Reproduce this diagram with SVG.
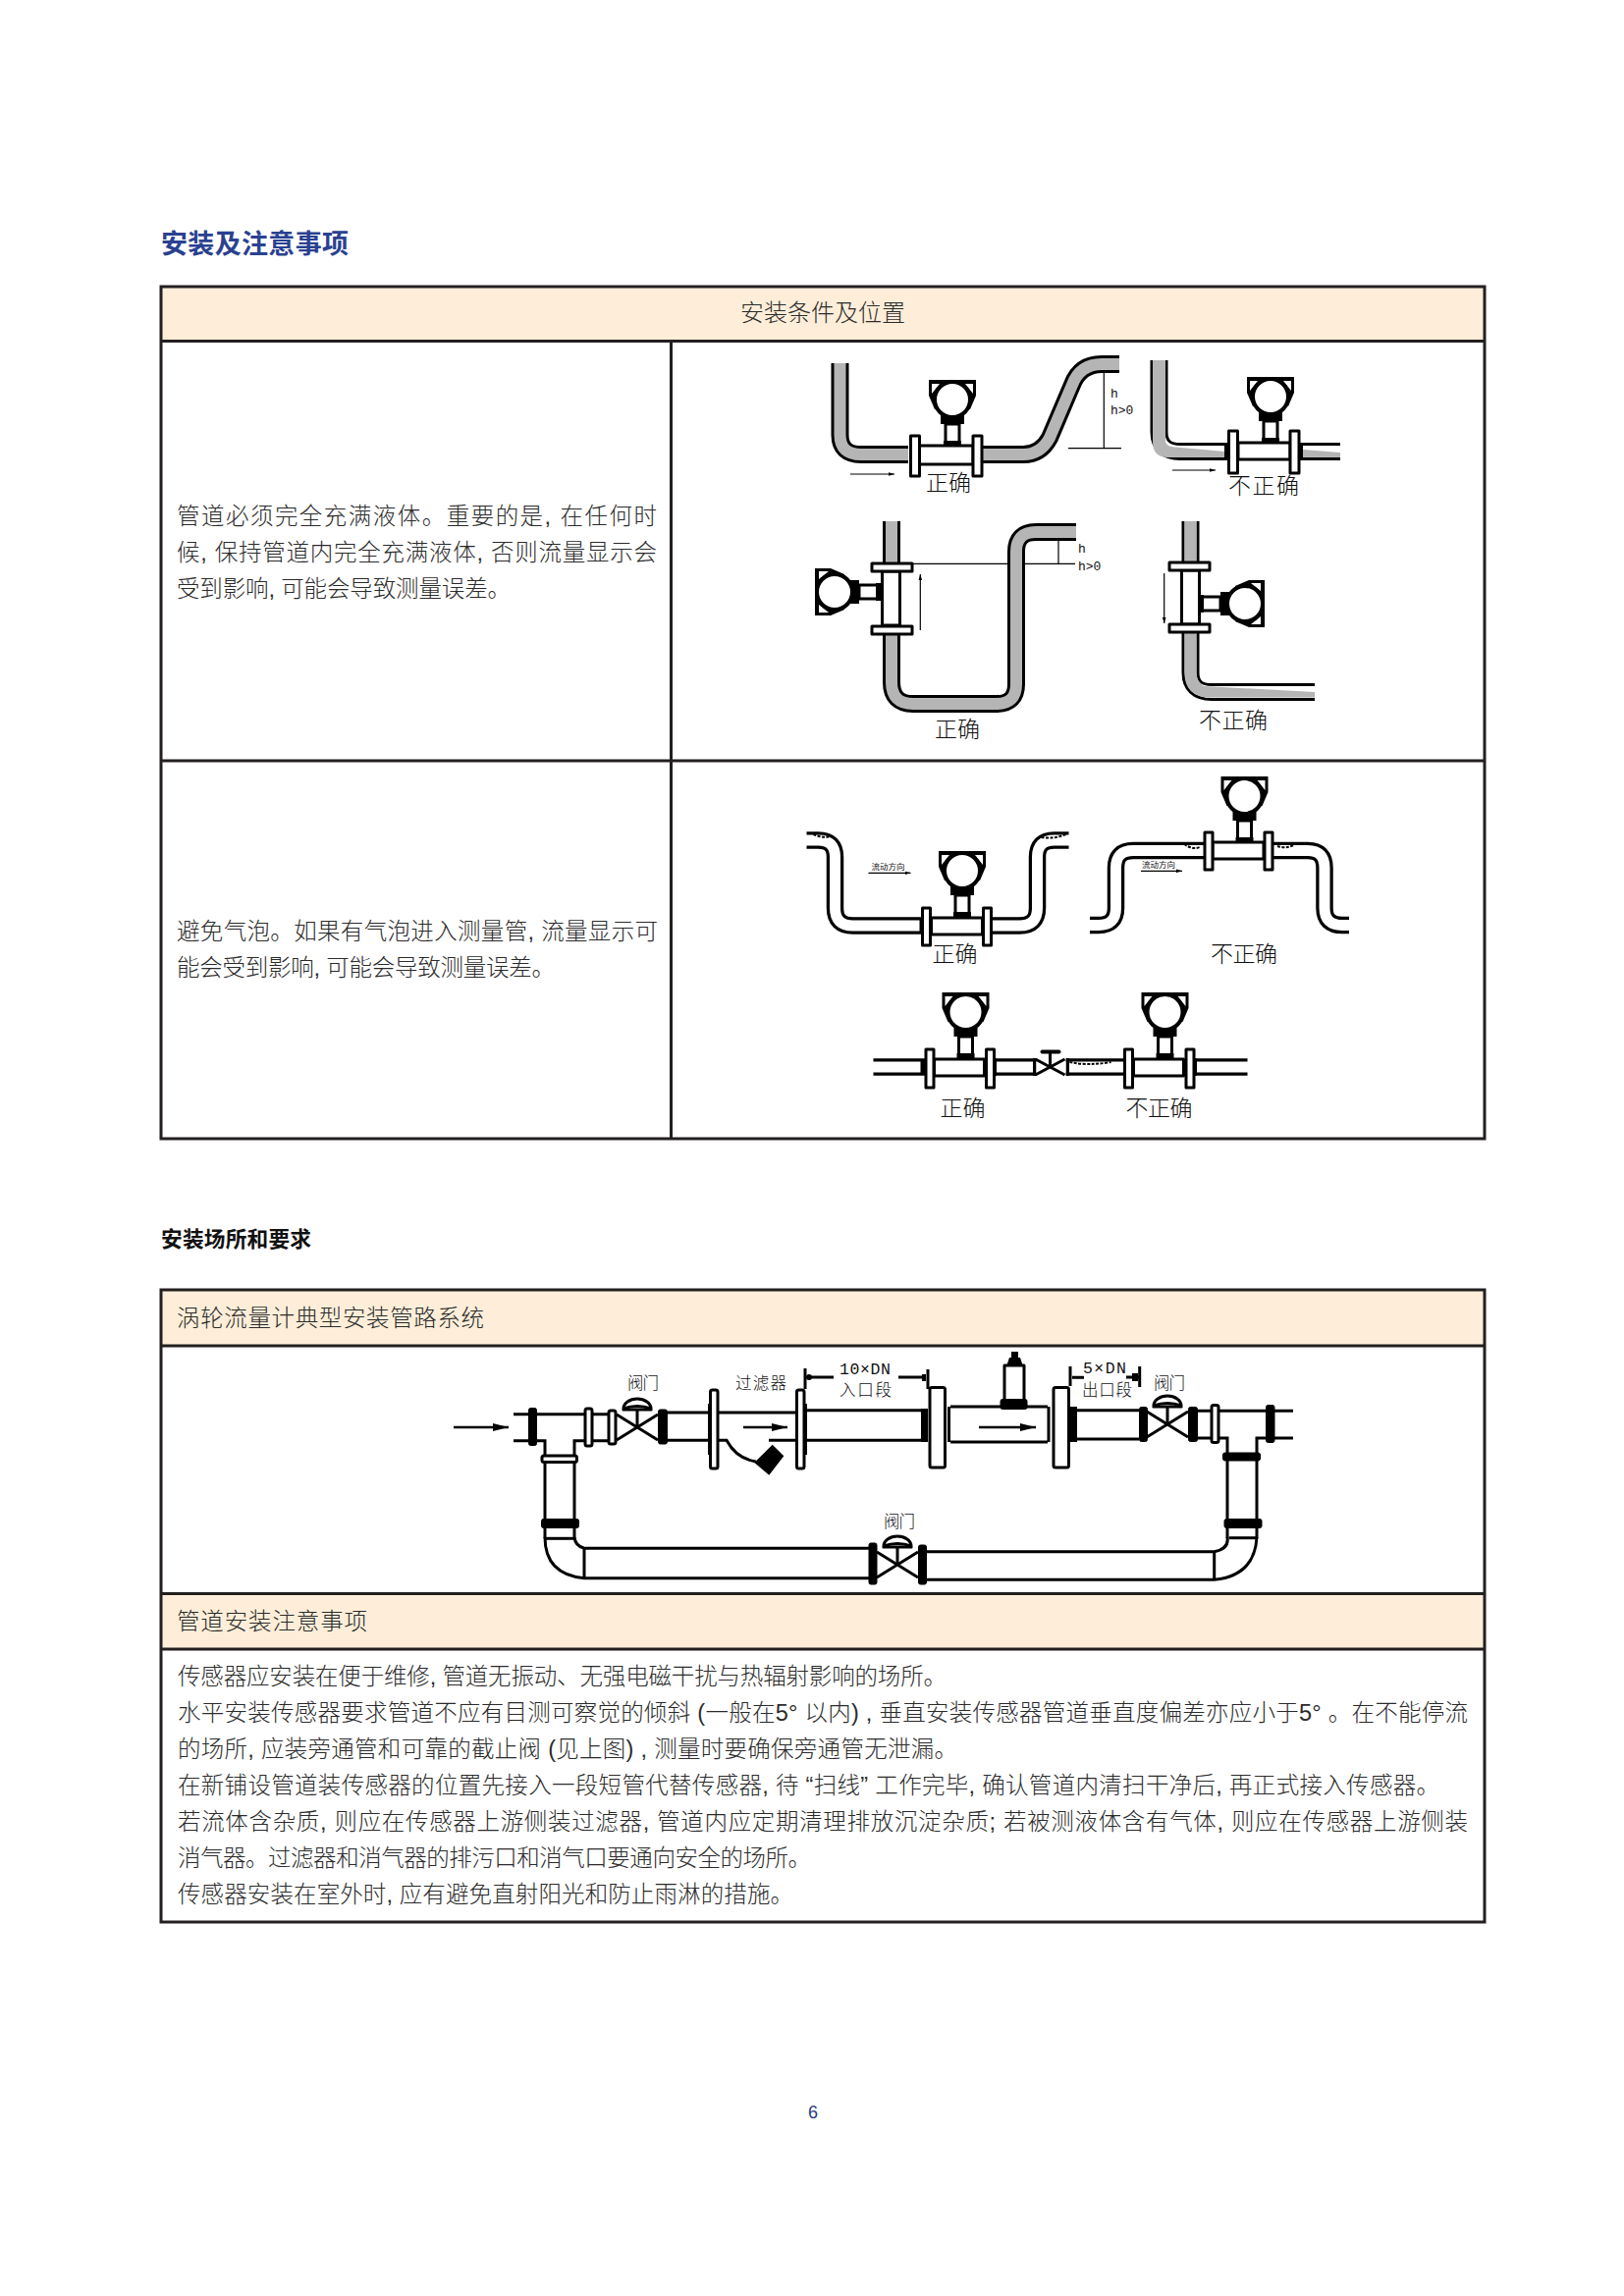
<svg xmlns="http://www.w3.org/2000/svg" width="1654" height="2339" viewBox="0 0 1654 2339">
<style>
text{font-family:"Liberation Sans","Noto Sans CJK SC",sans-serif;fill:#2b2b2b}
.body{font-size:23.5px;font-weight:300}
.lb{font-size:23px;font-weight:300;fill:#111}
.sm{font-size:16.5px;font-weight:300;fill:#111}
.mono{font-family:"Liberation Mono","Noto Sans CJK SC",monospace;font-size:16.5px;fill:#111}
.tiny{font-size:8.5px;fill:#111}
.h{font-family:"Liberation Mono",monospace;font-size:13px;fill:#111}
.grid{fill:none;stroke:#231f20;stroke-width:3}
.head{fill:#feeed9}
.po{fill:none;stroke:#000;stroke-width:18}
.pg{fill:none;stroke:#b5b5b5;stroke-width:12}
.pw{fill:none;stroke:#fff;stroke-width:12}
.wo{fill:none;stroke:#000;stroke-width:17.5}
.wi{fill:none;stroke:#fff;stroke-width:11}
.fl{fill:#fff;stroke:#000;stroke-width:3;stroke-linejoin:round}
.fb{fill:#000;stroke:#000;stroke-width:1;stroke-linejoin:round}
.ln{fill:none;stroke:#000;stroke-width:3}
.th{fill:none;stroke:#000;stroke-width:1.2}
.ar{fill:none;stroke:#000;stroke-width:2.5}
.bb{fill:none;stroke:#000;stroke-width:2;stroke-dasharray:3 1.5}
</style>
<defs>
<marker id="ah" viewBox="0 0 10 6" refX="10" refY="3" markerWidth="6" markerHeight="4" markerUnits="userSpaceOnUse" orient="auto"><path d="M0,0 L10,3 L0,6 Z" fill="#000"/></marker>
<marker id="ab" viewBox="0 0 16 8" refX="16" refY="4" markerWidth="16" markerHeight="8" markerUnits="userSpaceOnUse" orient="auto"><path d="M0,0 L16,4 L0,8 Z" fill="#000"/></marker>
<g id="xm">
<path d="M-24,-67 H24 V-51 L18,-37 H-18 L-24,-51 Z" fill="#000"/>
<path d="M-21,-63 H-13 L-21,-53 Z M21,-63 H13 L21,-53 Z" fill="#fff"/>
<circle cx="0" cy="-47" r="18" fill="#fff" stroke="#000" stroke-width="4"/>
<rect x="-12" y="-31" width="24" height="9" fill="#000"/>
<rect x="-7" y="-22" width="14" height="20" fill="#fff" stroke="#000" stroke-width="3"/>
<rect x="-9" y="-5" width="18" height="5" fill="#000"/>
</g>
<g id="vv">
<path class="ln" d="M-21,-13 L21,13 M-21,13 L21,-13"/>
<path class="ln" d="M0,0 V-18"/>
<path d="M-14,-19 A14,10 0 0 1 14,-19 Q0,-24 -14,-19 Z" fill="#fff" stroke="#000" stroke-width="3"/>
<path d="M-15,-18 H15" stroke="#000" stroke-width="3"/>
</g>
</defs>
<rect width="1654" height="2339" fill="#fff"/>

<g id="title"><text x="164" y="258" textLength="191" style="font-size:27px;font-weight:700;fill:#2a4190">安装及注意事项</text></g>

<g id="table1">
<rect class="head" x="164" y="292" width="1348" height="55"/>
<rect class="grid" x="164" y="292" width="1348" height="868"/>
<path class="grid" d="M164,347.500 H1512 M683.500,347 V1160 M164,775 H1512"/>
<text class="body" x="838" y="327" text-anchor="middle" style="font-size:24px">安装条件及位置</text>
<text class="body" x="180" y="534" textLength="489">管道必须完全充满液体。重要的是, 在任何时</text>
<text class="body" x="180" y="571" textLength="489">候, 保持管道内完全充满液体, 否则流量显示会</text>
<text class="body" x="180" y="608" textLength="340">受到影响, 可能会导致测量误差。</text>
<text class="body" x="180" y="957" textLength="490">避免气泡。如果有气泡进入测量管, 流量显示可</text>
<text class="body" x="180" y="994" textLength="385">能会受到影响, 可能会导致测量误差。</text>
</g>

<g id="diagram-a">
<path class="th" d="M1088,456.700 H1142 M1124.300,379 V456"/>
<path class="po" d="M855.500,370 V443 Q855.500,463 877,463 H925 M1000,463 H1042 Q1060,463 1069,446 L1092,392 Q1100,371 1122,371 H1140"/>
<path class="pg" d="M855.500,370 V443 Q855.500,463 877,463 H925 M1000,463 H1042 Q1060,463 1069,446 L1092,392 Q1100,371 1122,371 H1140"/>
<rect class="fl" x="936" y="454" width="55" height="19"/>
<rect class="fl" x="927.500" y="444" width="9" height="41"/>
<rect class="fl" x="991" y="444" width="9" height="41"/>
<use href="#xm" x="970" y="454"/>
<path class="th" d="M866,483 H911" marker-end="url(#ah)"/>
<text class="lb" x="943" y="500">正确</text>
<text class="h" x="1131" y="405">h</text><text class="h" x="1131" y="421.700">h&gt;0</text>
</g>

<g id="diagram-b">
<path class="po" d="M1180.500,367 V440 Q1180.500,460 1202,460 H1250 M1323,460 H1365"/>
<path class="pw" d="M1180.500,367 V440 Q1180.500,460 1202,460 H1250 M1323,460 H1365"/>
<path fill="#b5b5b5" d="M1174,367 H1187 V450 Q1188,455 1197,455.500 L1248,460 V466 H1190 Q1174,466 1174,450 Z M1327,458 L1365,461 V466 H1327 Z"/>
<rect x="1247" y="452" width="4" height="16" fill="#000"/><rect x="1323" y="452" width="4" height="16" fill="#000"/>
<rect class="fl" x="1261" y="451" width="53" height="17"/>
<rect class="fl" x="1251.500" y="439" width="9" height="43"/>
<rect class="fl" x="1314" y="439" width="9" height="43"/>
<use href="#xm" x="1294" y="451"/>
<path class="th" d="M1194,479 H1238" marker-end="url(#ah)"/>
<text class="lb" x="1251" y="503" textLength="72">不正确</text>
</g>

<g id="diagram-c">
<path class="th" d="M929,574.300 H1095 M1078,551 V574"/>
<path class="po" d="M908,531 V574 M908,646 V695 Q908,717 930,717 H1015 Q1035,717 1035,697 V562 Q1035,542 1055,542 H1096"/>
<path class="pg" d="M908,531 V574 M908,646 V695 Q908,717 930,717 H1015 Q1035,717 1035,697 V562 Q1035,542 1055,542 H1096"/>
<rect class="fl" x="898.500" y="582" width="18" height="55"/>
<rect class="fl" x="888" y="574" width="41" height="8"/>
<rect class="fl" x="888" y="638" width="41" height="8"/>
<use href="#xm" transform="translate(897,603) rotate(-90)"/>
<path class="th" d="M937.300,642 V585" marker-end="url(#ah)"/>
<text class="h" x="1098" y="562.700">h</text><text class="h" x="1098" y="580.700">h&gt;0</text>
<text class="lb" x="952" y="751">正确</text>
</g>

<g id="diagram-d">
<path class="po" d="M1212.500,531 V574 M1212.500,644 V685 Q1212.500,705 1234,705 H1339"/>
<path class="pw" d="M1212.500,531 V574 M1212.500,644 V685 Q1212.500,705 1234,705 H1339"/>
<path fill="#b5b5b5" d="M1206.500,531 H1218.500 V574 H1206.500 Z M1206.500,644 H1218.500 V685 Q1218.500,694 1226,699 L1339,705 V710.500 H1232 Q1206.500,710 1206.500,685 Z"/>
<rect class="fl" x="1203.500" y="581" width="18" height="55"/>
<rect class="fl" x="1191" y="573" width="41" height="8"/>
<rect class="fl" x="1191" y="636" width="41" height="8"/>
<use href="#xm" transform="translate(1221,615) rotate(90)"/>
<path class="th" d="M1185.700,584 V635" marker-end="url(#ah)"/>
<text class="lb" x="1221" y="741.700" textLength="70">不正确</text>
</g>

<g id="diagram-e" transform="translate(-1.500,0)">
<path class="wo" d="M823,856 H835 Q852,856 852,873 V925 Q852,943 870,943 H940 M1011,943 H1040 Q1058,943 1058,925 V873 Q1058,856 1075,856 H1090"/>
<path class="wi" d="M820,856 H835 Q852,856 852,873 V925 Q852,943 870,943 H940 M1011,943 H1040 Q1058,943 1058,925 V873 Q1058,856 1075,856 H1093"/>
<rect x="938" y="935" width="4" height="16" fill="#000"/>
<rect class="fl" x="950" y="935" width="52" height="17"/>
<rect class="fl" x="941" y="925" width="8" height="38"/>
<rect class="fl" x="1003" y="925" width="8" height="38"/>
<use href="#xm" x="981.500" y="934"/>
<path class="bb" d="M830,850 Q838,854 851,852 M1062,853 Q1075,855 1087,850"/>
<text class="tiny" x="889" y="885.700">流动方向</text>
<path class="th" d="M886,889.300 H929" marker-end="url(#ah)"/>
<text class="lb" x="951" y="980">正确</text>
</g>

<g id="diagram-f" transform="translate(-3,0)">
<path class="wo" d="M1113,942.500 H1122 Q1139.500,942.500 1139.500,925 V884 Q1139.500,866.500 1157,866.500 H1229 M1299,866.500 H1335 Q1352,866.500 1352,884 V925 Q1352,942.500 1370,942.500 H1377"/>
<path class="wi" d="M1110,942.500 H1122 Q1139.500,942.500 1139.500,925 V884 Q1139.500,866.500 1157,866.500 H1229 M1299,866.500 H1335 Q1352,866.500 1352,884 V925 Q1352,942.500 1370,942.500 H1380"/>
<rect class="fl" x="1238" y="858" width="52" height="17"/>
<rect class="fl" x="1230" y="848" width="8" height="38"/>
<rect class="fl" x="1291" y="848" width="8" height="38"/>
<use href="#xm" x="1270.500" y="858"/>
<path class="bb" d="M1209,860 Q1218,866 1225,863 M1304,862 Q1312,865 1321,861"/>
<text class="tiny" x="1166" y="883.500">流动方向</text>
<path class="th" d="M1165,887.300 H1207" marker-end="url(#ah)"/>
<text class="lb" x="1236" y="980" textLength="68">不正确</text>
</g>

<g id="diagram-g" transform="translate(-2.500,0)">
<path class="wo" d="M892,1087 H945 M1014,1087 H1058 M1088,1087 H1148 M1218,1087 H1273"/>
<path class="wi" d="M889,1087 H945 M1014,1087 H1058 M1088,1087 H1148 M1218,1087 H1276"/>
<path class="ln" d="M1016,1078 V1096 M1056,1078 V1096 M1090,1078 V1096 M1220,1078 V1096"/>
<rect x="940" y="1079" width="5" height="16" fill="#000"/>
<path class="ln" d="M1057,1079 L1087,1095 M1057,1095 L1087,1079 M1072,1087 V1072"/>
<path d="M1064,1071.500 H1081" stroke="#000" stroke-width="4" stroke-linecap="round"/>
<rect class="fl" x="954" y="1079" width="51" height="17"/>
<rect class="fl" x="945.500" y="1069" width="8" height="39"/>
<rect class="fl" x="1007" y="1069" width="8" height="39"/>
<rect class="fl" x="1157" y="1079" width="51" height="17"/>
<rect class="fl" x="1148" y="1069" width="8" height="39"/>
<rect class="fl" x="1210.500" y="1069" width="8" height="39"/>
<use href="#xm" x="986" y="1078"/>
<use href="#xm" x="1189" y="1078"/>
<path class="bb" d="M1092,1082 Q1110,1086 1134,1082"/>
<text class="lb" x="960" y="1136.700">正确</text>
<text class="lb" x="1149" y="1136.700" textLength="68">不正确</text>
</g>

<g id="section2"><text x="164" y="1270" textLength="153" style="font-size:21.700px;font-weight:700;fill:#111">安装场所和要求</text></g>

<g id="table2">
<rect class="head" x="164" y="1314" width="1348" height="56"/>
<rect class="head" x="164" y="1623" width="1348" height="56"/>
<rect class="grid" x="164" y="1314" width="1348" height="644"/>
<path class="grid" d="M164,1371 H1512 M164,1623.500 H1512 M164,1680 H1512"/>
<text class="body" x="180" y="1351" textLength="313">涡轮流量计典型安装管路系统</text>
<text class="body" x="180" y="1660" textLength="194">管道安装注意事项</text>
<text class="body" x="181" y="1716" textLength="783">传感器应安装在便于维修, 管道无振动、无强电磁干扰与热辐射影响的场所。</text>
<text class="body" x="181" y="1753" textLength="1314">水平安装传感器要求管道不应有目测可察觉的倾斜 (一般在5° 以内) , 垂直安装传感器管道垂直度偏差亦应小于5° 。在不能停流</text>
<text class="body" x="181" y="1790" textLength="794">的场所, 应装旁通管和可靠的截止阀 (见上图) , 测量时要确保旁通管无泄漏。</text>
<text class="body" x="181" y="1827" textLength="1285">在新铺设管道装传感器的位置先接入一段短管代替传感器, 待 “扫线” 工作完毕, 确认管道内清扫干净后, 再正式接入传感器。</text>
<text class="body" x="181" y="1864" textLength="1314">若流体含杂质, 则应在传感器上游侧装过滤器, 管道内应定期清理排放沉淀杂质; 若被测液体含有气体, 则应在传感器上游侧装</text>
<text class="body" x="181" y="1901" textLength="645">消气器。过滤器和消气器的排污口和消气口要通向安全的场所。</text>
<text class="body" x="181" y="1938" textLength="627">传感器安装在室外时, 应有避免直射阳光和防止雨淋的措施。</text>
</g>

<g id="piping-main">
<path class="ar" d="M462,1454 H518" marker-end="url(#ab)"/>
<path class="ln" d="M523,1440.700 H620 M523,1467.700 H555 V1567 M620,1467.700 H585 V1567"/>
<rect class="fb" x="538.500" y="1434.500" width="8" height="38" rx="2"/>
<rect class="fl" x="596" y="1435" width="7" height="38" rx="2"/>
<rect class="fl" x="620" y="1437" width="7" height="34" rx="2"/>
<use href="#vv" x="649" y="1454"/>
<rect class="fb" x="670.500" y="1436" width="9" height="35" rx="2"/>
<path class="ln" d="M679,1439 H723 M679,1467.300 H723"/>
<path class="ln" d="M731,1439 H812 M731,1467.300 H740 Q750,1486 770,1489 M783,1467.300 H811"/>
<polygon points="786.700,1471.700 798.300,1483.300 783.300,1502.700 768.300,1490" fill="#000"/>
<path class="ar" d="M757,1454 H802" marker-end="url(#ab)"/>
<rect class="fl" x="723.500" y="1416" width="7.500" height="80" rx="2"/>
<rect x="721" y="1430" width="3" height="52" fill="#000"/>
<rect class="fl" x="811.500" y="1416" width="7.500" height="80" rx="2"/>
<rect x="819" y="1430" width="3" height="52" fill="#000"/>
<path class="ln" d="M820,1436.700 H940 M820,1467.300 H940"/>
<rect x="938" y="1435" width="7" height="34" fill="#000"/>
<path class="ln" d="M968,1433 H1067 M968,1469 H1067 M966.500,1433 V1469 M1068,1433 V1469"/>
<path class="ar" d="M997,1454 H1055" marker-end="url(#ab)"/>
<rect class="fl" x="947" y="1413.500" width="15.500" height="81.500" rx="2"/>
<rect class="fl" x="1073" y="1413.500" width="15.500" height="81.500" rx="2"/>
<rect x="1090" y="1433" width="7" height="36" fill="#000"/>
<path class="ln" d="M1097,1436.700 H1160 M1097,1466 H1160"/>
<g id="vortex-sensor">
<rect class="fl" x="1023" y="1391" width="20" height="36"/>
<path d="M1025,1392 L1028,1383 H1030 V1377 H1037 V1383 H1039 L1042,1392 Z" fill="#000"/>
<rect x="1018.500" y="1425" width="28" height="11" rx="3" fill="#000"/>
</g>
<rect class="fb" x="1160.500" y="1433.500" width="8" height="35" rx="2"/>
<use href="#vv" x="1189" y="1451"/>
<rect class="fb" x="1210.500" y="1433.500" width="9" height="35" rx="2"/>
<path class="ln" d="M1219,1437.300 H1317 M1219,1465 H1250 V1567 M1317,1465 H1280 V1567"/>
<rect class="fl" x="1234" y="1431.500" width="7" height="38" rx="2"/>
<rect class="fb" x="1289.500" y="1431.500" width="8.500" height="38" rx="2"/>
<rect class="fb" x="1245.500" y="1480" width="38" height="8" rx="2"/>
<rect class="fb" x="1247" y="1547.500" width="38" height="9" rx="2"/>
<path class="ln" d="M1252,1566.700 H1280"/>
<path class="ln" d="M1280,1566 Q1278,1605 1236.700,1609.300 M1250,1566 Q1252,1578 1236.700,1580.700 V1609.300 M1236.700,1580.700 H943 M1236.700,1609.300 H943"/>
<rect class="fb" x="935.500" y="1574" width="8" height="40" rx="2"/>
<use href="#vv" x="914" y="1594"/>
<rect class="fb" x="885" y="1572" width="8" height="42" rx="2"/>
<path class="ln" d="M885,1577.300 H595 M885,1607.700 H595 V1577.300 M585,1566 Q586,1575 595,1577.300 M555,1566 Q555,1604 595,1607.700"/>
<path class="ln" d="M555,1567.300 H585"/>
<rect class="fl" x="552" y="1483" width="35.500" height="6.500" rx="2"/>
<rect class="fb" x="551.500" y="1547.500" width="38" height="9" rx="2"/>
</g>

<g id="dimensions">
<path class="ln" d="M820,1394 V1415 M945,1395 V1415 M1090,1392 V1412 M1160.700,1392 V1413"/>
<path class="ln" d="M823,1403 H849 M915,1403 H942 M1092,1403.300 H1104 M1147,1403 H1160"/>
<circle cx="824" cy="1403" r="3"/>
<rect x="939" y="1400" width="4" height="7"/>
<rect x="1153" y="1399" width="6" height="8"/>
<text class="mono" x="855" y="1400" textLength="52">10×DN</text>
<text class="sm" x="855" y="1421.700" textLength="53">入口段</text>
<text class="mono" x="1103" y="1399" textLength="44">5×DN</text>
<text class="sm" x="1102" y="1421.700" textLength="51">出口段</text>
<text class="sm" x="639" y="1415" textLength="32">阀门</text>
<text class="sm" x="749" y="1415" textLength="52">过滤器</text>
<text class="sm" x="1175" y="1415" textLength="32">阀门</text>
<text class="sm" x="900" y="1556" textLength="32">阀门</text>
</g>

<g id="page-number"><text x="828" y="2158" text-anchor="middle" style="font-size:18px;fill:#2a3a80">6</text></g>
</svg>
